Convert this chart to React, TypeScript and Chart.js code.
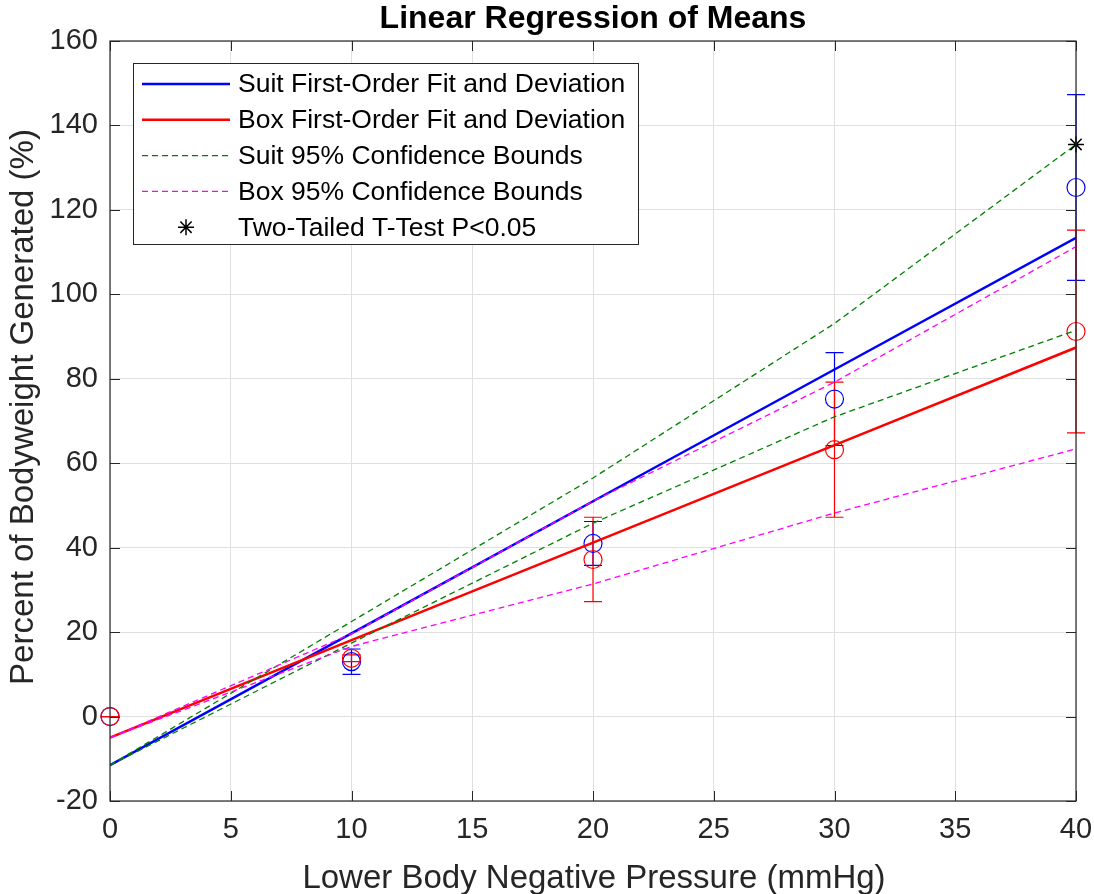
import React, { useEffect, useRef } from 'react';
import { Chart, registerables } from 'chart.js';

Chart.register(...registerables);

// ---- data ----
const pressures = [0, 10, 20, 30, 40];
const suitMeans = [0, 13, 41, 75.2, 125.3];
const suitSD = [0, 3, 5.2, 11, 22];
const boxMeans = [0, 13.8, 37.2, 63.2, 91.2];
const boxSD = [0, 0.8, 10, 16, 24];
const suitFit = [-11.5, 19.7, 51, 82.2, 113.4];
const boxFit = [-5, 18.1, 41.2, 64.3, 87.4];
const suitUpper = [-11.5, 22.5, 56.5, 93.1, 135.5];
const suitLower = [-11.5, 17.4, 45.8, 71, 91.5];
const boxUpper = [-5, 19.6, 51, 79.2, 111.3];
const boxLower = [-5, 16.6, 31.4, 48.2, 63.4];
const tTestX = [40];
const tTestY = [135.5];
const xTicks = [0, 5, 10, 15, 20, 25, 30, 35, 40];
const yTicks = [-20, 0, 20, 40, 60, 80, 100, 120, 140, 160];
const legendLabels = [
  'Suit First-Order Fit and Deviation',
  'Box First-Order Fit and Deviation',
  'Suit 95% Confidence Bounds',
  'Box 95% Confidence Bounds',
  'Two-Tailed T-Test P<0.05',
];
const titleText = 'Linear Regression of Means';
const xLabel = 'Lower Body Negative Pressure (mmHg)';
const yLabel = 'Percent of Bodyweight Generated (%)';

const FONT = "'Liberation Sans', Arial, Helvetica, sans-serif";
const BLUE = '#0000ff';
const RED = '#ff0000';
const GREEN = '#008000';
const MAGENTA = '#ff00ff';
const AXIS = '#262626';
const DASH = [6, 4];

const pts = (ys: number[]) => pressures.map((p, i) => ({ x: p, y: ys[i] }));

function drawStar(ctx: CanvasRenderingContext2D, cx: number, cy: number, r: number) {
  ctx.beginPath();
  for (let k = 0; k < 4; k++) {
    const a = (k * Math.PI) / 4;
    const dx = Math.cos(a) * r;
    const dy = Math.sin(a) * r;
    ctx.moveTo(cx - dx, cy - dy);
    ctx.lineTo(cx + dx, cy + dy);
  }
  ctx.stroke();
}

const overlayPlugin = {
  id: 'overlay',
  beforeDatasetsDraw(chart: any) {
    const { ctx, scales } = chart;
    const x = scales.x;
    const y = scales.y;
    const bars = (means: number[], sds: number[], color: string) => {
      ctx.save();
      ctx.strokeStyle = color;
      ctx.lineWidth = 1.2;
      pressures.forEach((p, i) => {
        const px = x.getPixelForValue(p);
        const yl = y.getPixelForValue(means[i] - sds[i]);
        const yh = y.getPixelForValue(means[i] + sds[i]);
        ctx.beginPath();
        ctx.moveTo(px, yl);
        ctx.lineTo(px, yh);
        ctx.moveTo(px - 9, yl);
        ctx.lineTo(px + 9, yl);
        ctx.moveTo(px - 9, yh);
        ctx.lineTo(px + 9, yh);
        ctx.stroke();
      });
      ctx.restore();
    };
    bars(suitMeans, suitSD, BLUE);
    bars(boxMeans, boxSD, RED);
  },
  afterDraw(chart: any) {
    const { ctx, chartArea, scales } = chart;
    const { left, right, top, bottom } = chartArea;
    const x = scales.x;
    const y = scales.y;
    ctx.save();
    // axes box
    ctx.strokeStyle = AXIS;
    ctx.lineWidth = 1.2;
    ctx.strokeRect(left, top, right - left, bottom - top);
    // inner tick marks
    ctx.lineWidth = 1;
    ctx.beginPath();
    xTicks.forEach((v) => {
      const px = Math.round(x.getPixelForValue(v)) + 0.5;
      ctx.moveTo(px, bottom);
      ctx.lineTo(px, bottom - 10);
      ctx.moveTo(px, top);
      ctx.lineTo(px, top + 10);
    });
    yTicks.forEach((v) => {
      const py = Math.round(y.getPixelForValue(v)) + 0.5;
      ctx.moveTo(left, py);
      ctx.lineTo(left + 10, py);
      ctx.moveTo(right, py);
      ctx.lineTo(right - 10, py);
    });
    ctx.stroke();

    // legend
    const lx = 133.5, ly = 63.5, lw = 505, lh = 181;
    ctx.fillStyle = '#ffffff';
    ctx.fillRect(lx, ly, lw, lh);
    ctx.strokeStyle = AXIS;
    ctx.lineWidth = 1;
    ctx.strokeRect(lx, ly, lw, lh);
    const styles = [
      { color: BLUE, width: 2.5, dash: [] as number[] },
      { color: RED, width: 2.5, dash: [] as number[] },
      { color: GREEN, width: 1.3, dash: DASH },
      { color: MAGENTA, width: 1.3, dash: DASH },
      null,
    ];
    ctx.font = `26.5px ${FONT}`;
    ctx.textBaseline = 'middle';
    ctx.textAlign = 'left';
    legendLabels.forEach((label, i) => {
      const ry = 84 + i * 35.8;
      const st = styles[i];
      if (st) {
        ctx.strokeStyle = st.color;
        ctx.lineWidth = st.width;
        ctx.setLineDash(st.dash);
        ctx.beginPath();
        ctx.moveTo(142, ry);
        ctx.lineTo(230, ry);
        ctx.stroke();
        ctx.setLineDash([]);
      } else {
        ctx.strokeStyle = '#000';
        ctx.lineWidth = 1.5;
        drawStar(ctx, 186, ry, 8);
      }
      ctx.fillStyle = '#000';
      ctx.fillText(label, 238, ry + 1);
    });

    // title
    ctx.fillStyle = '#000';
    ctx.textAlign = 'center';
    ctx.textBaseline = 'alphabetic';
    ctx.font = `bold 32px ${FONT}`;
    ctx.fillText(titleText, 593, 28);
    // axis labels
    ctx.fillStyle = AXIS;
    ctx.font = `33px ${FONT}`;
    ctx.fillText(xLabel, 594, 888);
    ctx.translate(33, 407);
    ctx.rotate(-Math.PI / 2);
    ctx.fillText(yLabel, 0, 0);
    ctx.restore();
  },
};

export default function App() {
  const ref = useRef<HTMLCanvasElement | null>(null);
  useEffect(() => {
    document.body.style.margin = '0';
    if (!ref.current) return;
    const lineDs = (label: string, ys: number[], color: string, width: number, dash: number[]) => ({
      label,
      data: pts(ys),
      borderColor: color,
      backgroundColor: color,
      borderWidth: width,
      borderDash: dash,
      pointRadius: 0,
      pointHoverRadius: 0,
      fill: false,
      tension: 0,
    });
    const markerDs = (label: string, ys: number[], color: string) => ({
      label,
      data: pts(ys),
      showLine: false,
      borderColor: color,
      backgroundColor: 'rgba(0,0,0,0)',
      pointStyle: 'circle',
      pointRadius: 9,
      pointBorderWidth: 1.2,
      clip: false,
    });
    const chart = new Chart(ref.current, {
      type: 'line',
      data: {
        datasets: [
          {
            label: 'T-Test',
            data: tTestX.map((v, i) => ({ x: v, y: tTestY[i] })),
            showLine: false,
            borderColor: '#000',
            backgroundColor: '#000',
            pointStyle: 'star',
            pointRadius: 8,
            pointBorderWidth: 1.5,
            clip: false,
          } as any,
          lineDs('Box upper', boxUpper, MAGENTA, 1.3, DASH),
          lineDs('Box lower', boxLower, MAGENTA, 1.3, DASH),
          lineDs('Suit upper', suitUpper, GREEN, 1.3, DASH),
          lineDs('Suit lower', suitLower, GREEN, 1.3, DASH),
          lineDs('Box fit', boxFit, RED, 2.5, []),
          lineDs('Suit fit', suitFit, BLUE, 2.5, []),
          markerDs('Box means', boxMeans, RED),
          markerDs('Suit means', suitMeans, BLUE),
        ],
      },
      options: {
        responsive: false,
        animation: false,
        layout: { padding: { left: 0, right: 18, top: 41, bottom: 0 } },
        plugins: {
          legend: { display: false },
          title: { display: false },
          tooltip: { enabled: false },
        },
        scales: {
          x: {
            type: 'linear',
            min: 0,
            max: 40,
            afterBuildTicks: (s: any) => {
              s.ticks = xTicks.map((v) => ({ value: v }));
            },
            afterFit: (s: any) => {
              s.height = 93;
              s.paddingLeft = 0;
              s.paddingRight = 0;
            },
            grid: { color: '#e0e0e0', lineWidth: 1, drawTicks: false },
            border: { display: false },
            ticks: {
              color: AXIS,
              font: { family: FONT, size: 29 },
              padding: 12,
              maxRotation: 0,
              autoSkip: false,
            },
          },
          y: {
            type: 'linear',
            min: -20,
            max: 160,
            afterBuildTicks: (s: any) => {
              s.ticks = yTicks.map((v) => ({ value: v }));
            },
            afterFit: (s: any) => {
              s.width = 110;
              s.paddingTop = 0;
              s.paddingBottom = 0;
            },
            grid: { color: '#e0e0e0', lineWidth: 1, drawTicks: false },
            border: { display: false },
            ticks: {
              color: AXIS,
              font: { family: FONT, size: 29 },
              padding: 12,
              autoSkip: false,
            },
          },
        },
      } as any,
      plugins: [overlayPlugin],
    });
    return () => chart.destroy();
  }, []);
  return (
    <div style={{ width: 1094, height: 894, background: '#fff' }}>
      <canvas ref={ref} width={1094} height={894} style={{ display: 'block' }} />
    </div>
  );
}
